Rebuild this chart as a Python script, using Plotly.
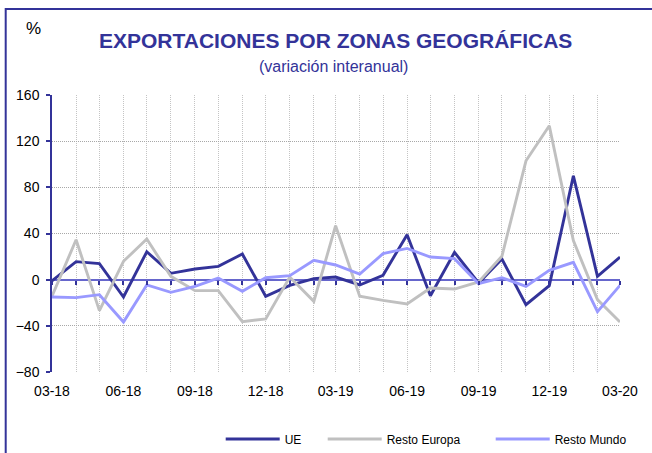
import plotly.graph_objects as go

months = ["2018-03-01", "2018-04-01", "2018-05-01", "2018-06-01", "2018-07-01", "2018-08-01",
          "2018-09-01", "2018-10-01", "2018-11-01", "2018-12-01", "2019-01-01", "2019-02-01",
          "2019-03-01", "2019-04-01", "2019-05-01", "2019-06-01", "2019-07-01", "2019-08-01",
          "2019-09-01", "2019-10-01", "2019-11-01", "2019-12-01", "2020-01-01", "2020-02-01",
          "2020-03-01"]

ue = [-1, 15.6, 13.9, -15, 24.2, 5.5, 9.2, 11.5, 22.2, -14.4, -4.9, 0.9,
      2.3, -4.6, 3.8, 39, -13.9, 23.7, -2.9, 17.9, -21.7, -5.2, 90, 2.9, 19.6]
resto_europa = [-14.4, 34.6, -26.8, 15.9, 35.2, 2.9, -9.5, -9.5, -36.4, -34, 2.3, -18.8,
                46.8, -14.4, -17.9, -21, -7.2, -8.1, -2, 20.2, 103, 133.4, 33.8, -17.3, -36.7]
resto_mundo = [-15, -15.6, -13, -36.7, -4.6, -11, -5.8, 1.4, -10.1, 1.7, 3.5, 16.7,
               12.7, 4.9, 22.5, 27.1, 19.6, 18.2, -3.5, 1.7, -5.8, 8.1, 15, -27.7, -4.9]

series_names = ["UE", "Resto Europa", "Resto Mundo"]
series_colors = ["#333399", "#C0C0C0", "#9999FF"]

FONT = "Liberation Sans, Arial, sans-serif"
NAVY = "#333399"

# Plot-area pixel geometry
L, R, T, B = 52.3, 620.3, 95, 372
W, H = R - L, B - T

def px(xp):
    return (xp - L) / W

def py(yp):
    return (B - yp) / H

legend_ids = ["legend", "legend2", "legend3"]
legend_left_px = [221, 323, 491]

fig = go.Figure()
for name, vals, col, lg in zip(series_names, [ue, resto_europa, resto_mundo], series_colors, legend_ids):
    fig.add_trace(go.Scatter(x=months, y=vals, name=name, mode="lines", legend=lg,
                             line=dict(color=col, width=2.9)))

legend_common = dict(orientation="h", xanchor="left", y=py(439), yanchor="middle",
                     font=dict(size=12, family=FONT, color="black"), bgcolor="rgba(0,0,0,0)",
                     itemwidth=54, borderwidth=0)

fig.update_layout(
    width=652, height=453,
    margin=dict(l=52, r=32, t=95, b=81, pad=0, autoexpand=False),
    paper_bgcolor="white", plot_bgcolor="white",
    font=dict(family=FONT, color="black", size=14),
    showlegend=True,
    legend=dict(x=px(legend_left_px[0]), **legend_common),
    legend2=dict(x=px(legend_left_px[1]), **legend_common),
    legend3=dict(x=px(legend_left_px[2]), **legend_common),
    xaxis=dict(type="date", range=["2018-03-01", "2020-03-01"],
               dtick="M3", tick0="2018-03-01", tickformat="%m-%y",
               showgrid=True, gridcolor="#C4C4C4", griddash="1px,1px", gridwidth=1,
               minor=dict(dtick="M1", tick0="2018-03-01", showgrid=True,
                          gridcolor="#C4C4C4", griddash="1px,1px", gridwidth=1),
               showline=False, zeroline=False,
               ticks="outside", ticklen=6, tickcolor="rgba(0,0,0,0)",
               tickfont=dict(size=14, family=FONT, color="black")),
    xaxis2=dict(type="date", range=["2018-03-01", "2020-03-01"], overlaying="x",
                anchor="free", position=1/3, side="bottom",
                dtick="M1", tick0="2018-03-01", showticklabels=False,
                ticks="outside", ticklen=4, tickcolor=NAVY, tickwidth=1.5,
                showgrid=False, showline=False, zeroline=False),
    yaxis=dict(range=[-80, 160], dtick=40, tick0=0,
               showgrid=True, gridcolor="#A8A8A8", griddash="1px,1px", gridwidth=1,
               zeroline=True, zerolinecolor="#6666CC", zerolinewidth=1.6,
               showline=True, linecolor=NAVY, linewidth=1.5,
               ticks="outside", ticklen=4, tickcolor=NAVY, tickwidth=1.5,
               ticklabelstandoff=4,
               tickfont=dict(size=14, family=FONT, color="black")),
)

# dummy invisible trace to make xaxis2 exist
fig.add_trace(go.Scatter(x=months, y=ue, xaxis="x2", mode="lines",
                         line=dict(width=0, color="rgba(0,0,0,0)"),
                         showlegend=False, hoverinfo="skip"))

# Frame around the chart (extends past right and bottom edges)
fig.add_shape(type="rect", xref="paper", yref="paper",
              x0=px(6), x1=px(700), y0=py(520), y1=py(9),
              line=dict(color=NAVY, width=2), fillcolor="rgba(0,0,0,0)", layer="below")

fig.add_annotation(text="<b>EXPORTACIONES POR ZONAS GEOGRÁFICAS</b>", xref="paper", yref="paper",
                   x=px(335.5), y=py(41), xanchor="center", yanchor="middle", showarrow=False,
                   font=dict(size=21, color=NAVY, family=FONT))
fig.add_annotation(text="(variación interanual)", xref="paper", yref="paper",
                   x=px(334), y=py(66), xanchor="center", yanchor="middle", showarrow=False,
                   font=dict(size=16, color=NAVY, family=FONT))
fig.add_annotation(text="%", xref="paper", yref="paper",
                   x=px(34), y=py(29), xanchor="center", yanchor="middle", showarrow=False,
                   font=dict(size=17, color="black", family=FONT))

fig.write_html("out.html", config={"displayModeBar": False},
               post_script="document.body.style.margin='0';document.body.style.padding='0';document.body.style.overflow='hidden';")
